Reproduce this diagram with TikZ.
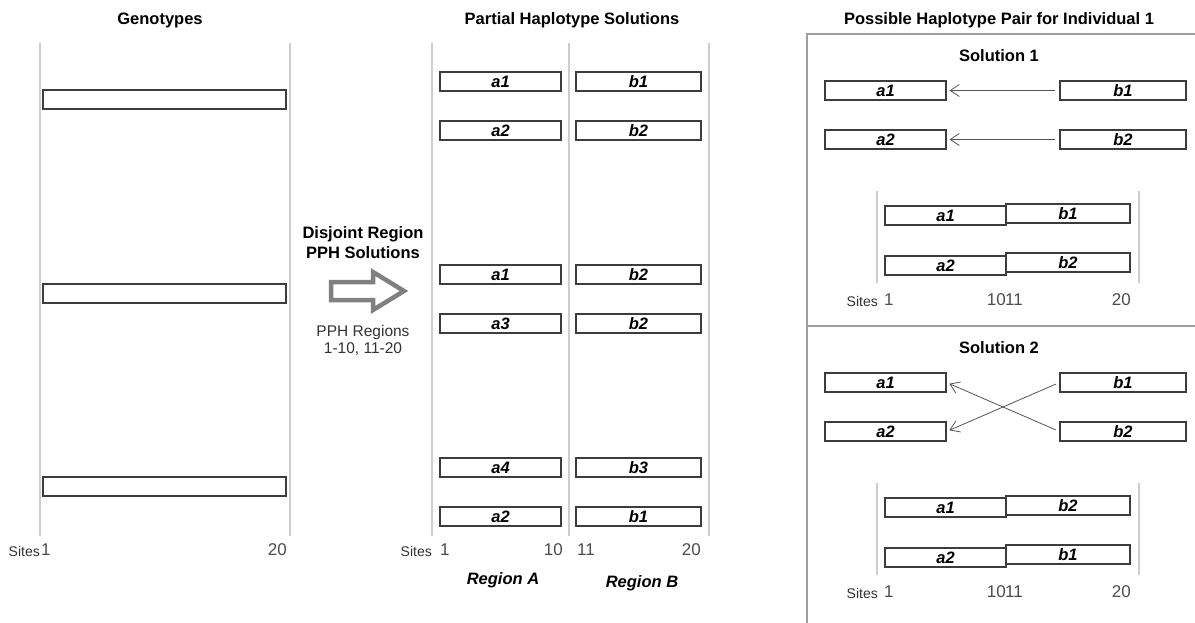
\documentclass[tikz,border=0pt]{standalone}
\usepackage{fontspec}
\setmainfont{Liberation Sans}
\usepackage{tikz}
\usetikzlibrary{arrows.meta}
\definecolor{guidegray}{RGB}{205, 205, 205}
\definecolor{barline}{RGB}{60, 60, 60}
\definecolor{arrowgray}{RGB}{128, 128, 128}
\definecolor{framegray}{RGB}{160, 160, 160}
\definecolor{linkgray}{RGB}{85, 85, 85}

\begin{document}
\begin{tikzpicture}[x=1pt, y=-1pt,
    hap/.style={draw=barline, line width=1.1pt, fill=white, minimum height=19pt, inner sep=0pt,
        font=\fontsize{16.5}{16.5}\selectfont\bfseries\itshape},
    geno/.style={draw=barline, line width=1.1pt, minimum width=243pt, minimum height=19pt, inner sep=0pt},
    guide/.style={draw=guidegray, line width=1.1pt},
    heading/.style={font=\fontsize{16.5}{20}\selectfont\bfseries, align=center},
    sitenum/.style={font=\fontsize{17}{17}\selectfont, text=black!70, inner sep=0pt},
    sitelbl/.style={font=\fontsize{14}{14}\selectfont, text=black!80, inner sep=0pt},
    link/.style={draw=linkgray, line width=0.8pt, -{Straight Barb[length=9pt, width=12pt]}}]
    \fill[white] (0,0) rectangle (1195,623);
    \useasboundingbox (0,0) rectangle (1195,623);

    % genotypes
    \node[heading] (genotitle) at (160,20) {Genotypes};
    \draw[guide] (40,43) -- (40,536);
    \draw[guide] (290,43) -- (290,536);
    \node[geno] (g1) at (164.5,99.5) {};
    \node[geno] (g2) at (164.5,293.5) {};
    \node[geno] (g3) at (164.5,486.5) {};
    \node[sitelbl, anchor=east] (gsites) at (40,551) {Sites};
    \node[sitenum, anchor=west] (gfirst) at (41,550) {1};
    \node[sitenum, anchor=east] (glast) at (287,550) {20};

    % disjoint region step
    \node[heading] (steptitle) at (363,243) {Disjoint Region\\PPH Solutions};
    \draw[draw=arrowgray, line width=4.5pt, fill=white, line join=miter]
        (331,282) -- (373,282) -- (373,272) -- (404,291) -- (373,310) -- (373,300) -- (331,300) -- cycle;
    \node[font=\fontsize{15.5}{17}\selectfont, text=black!80, align=center] (regionnote) at (363,340)
        {PPH Regions\\1-10, 11-20};

    % partial haplotype solutions
    \node[heading] (parttitle) at (572,20) {Partial Haplotype Solutions};
    \draw[guide] (432,43) -- (432,536);
    \draw[guide] (569,43) -- (569,536);
    \draw[guide] (709,43) -- (709,536);
    \node[hap, minimum width=121pt] (pa1) at (500.5,81.5) {a1};
    \node[hap, minimum width=125pt] (pb1) at (638.5,81.5) {b1};
    \node[hap, minimum width=121pt] (pa2) at (500.5,130.5) {a2};
    \node[hap, minimum width=125pt] (pb2) at (638.5,130.5) {b2};
    \node[hap, minimum width=121pt] (pa3) at (500.5,274.5) {a1};
    \node[hap, minimum width=125pt] (pb3) at (638.5,274.5) {b2};
    \node[hap, minimum width=121pt] (pa4) at (500.5,323.5) {a3};
    \node[hap, minimum width=125pt] (pb4) at (638.5,323.5) {b2};
    \node[hap, minimum width=121pt] (pa5) at (500.5,467.5) {a4};
    \node[hap, minimum width=125pt] (pb5) at (638.5,467.5) {b3};
    \node[hap, minimum width=121pt] (pa6) at (500.5,516.5) {a2};
    \node[hap, minimum width=125pt] (pb6) at (638.5,516.5) {b1};
    \node[sitelbl, anchor=east] (psites) at (432,551) {Sites};
    \node[sitenum, anchor=west] (pfirst) at (440,550) {1};
    \node[sitenum, anchor=east] (pten) at (563,550) {10};
    \node[sitenum, anchor=west] (peleven) at (577,550) {11};
    \node[sitenum, anchor=east] (plast) at (701,550) {20};
    \node[heading, font=\fontsize{16.5}{16.5}\selectfont\bfseries\itshape] (regA) at (503,580) {Region A};
    \node[heading, font=\fontsize{16.5}{16.5}\selectfont\bfseries\itshape] (regB) at (642,583) {Region B};

    % possible haplotype pairs
    \node[heading] (pairtitle) at (999,20) {Possible Haplotype Pair for Individual 1};
    \draw[draw=framegray, line width=1.1pt] (807,623) -- (807,34) -- (1195,34);
    \draw[draw=framegray, line width=1.1pt] (807,326) -- (1195,326);

    \foreach \k/\dy/\mate/\other in {1/0/b1/b2, 2/292/b2/b1} {
        \node[heading] (s\k title) at (999,56+\dy) {Solution \k};
        \node[hap, minimum width=121pt] (s\k a1) at (885.5,90.5+\dy) {a1};
        \node[hap, minimum width=126pt] (s\k b1) at (1123,90.5+\dy) {b1};
        \node[hap, minimum width=121pt] (s\k a2) at (885.5,139.5+\dy) {a2};
        \node[hap, minimum width=126pt] (s\k b2) at (1123,139.5+\dy) {b2};
        \draw[link, shorten <=4pt, shorten >=3pt] (s\k \mate.west) -- (s\k a1.east);
        \draw[link, shorten <=4pt, shorten >=3pt] (s\k \other.west) -- (s\k a2.east);

        \draw[guide] (877,191+\dy) -- (877,283+\dy);
        \draw[guide] (1139,191+\dy) -- (1139,283+\dy);
        \node[hap, minimum width=121pt] (s\k ja1) at (945.5,215.5+\dy) {a1};
        \node[hap, minimum width=124pt] (s\k jb1) at (1068,213.5+\dy) {\mate};
        \node[hap, minimum width=121pt] (s\k ja2) at (945.5,265.5+\dy) {a2};
        \node[hap, minimum width=124pt] (s\k jb2) at (1068,262.5+\dy) {\other};
        \node[sitelbl, anchor=east] (s\k sites) at (878,301+\dy) {Sites};
        \node[sitenum, anchor=west] (s\k first) at (884,300+\dy) {1};
        \node[sitenum, anchor=east] (s\k ten) at (1006,300+\dy) {10};
        \node[sitenum, anchor=west] (s\k eleven) at (1005,300+\dy) {11};
        \node[sitenum, anchor=east] (s\k last) at (1131,300+\dy) {20};
    }
\end{tikzpicture}
\end{document}
